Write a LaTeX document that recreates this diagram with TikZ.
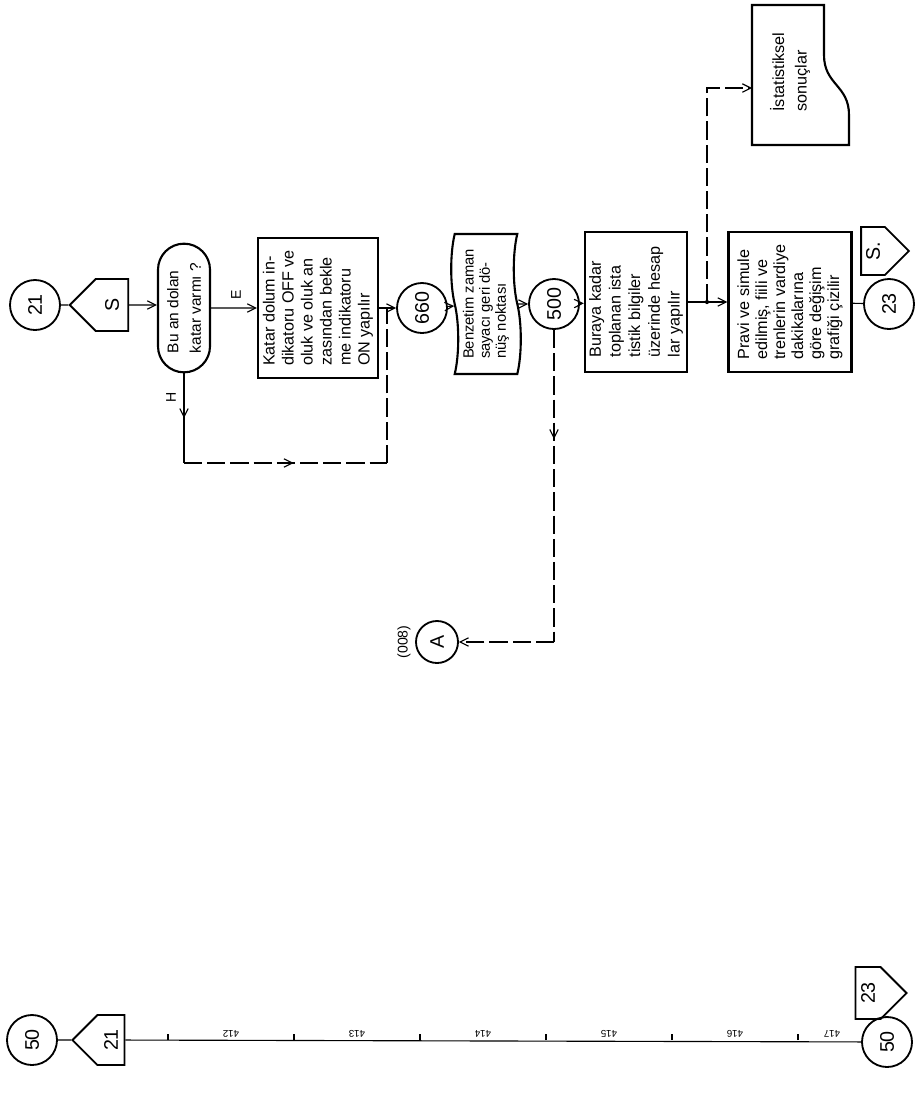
\documentclass[tikz,border=0pt]{standalone}
\usepackage{fontspec}
\setmainfont{Liberation Sans}
\usetikzlibrary{positioning,arrows.meta,shapes.misc,shapes.symbols,decorations.markings}

\begin{document}
\begin{tikzpicture}[x=0.025cm, y=-0.025cm,
        >={Straight Barb[length=6pt,width=6pt]},
        proc/.style={draw, line width=1.5pt, rotate=90, align=left,
                     minimum width=3.5cm, inner sep=3pt},
        dec/.style={draw, rounded rectangle, line width=1.5pt, rotate=90,
                    align=left, minimum width=3.45cm, minimum height=1.3cm,
                    font=\fontsize{11}{16}\selectfont},
        conn/.style={draw, circle, line width=1.3pt, rotate=90, inner sep=0pt,
                     minimum size=1.25cm, font=\fontsize{14}{16}\selectfont},
        offp/.style={draw, signal, signal pointer angle=90, line width=1.3pt,
                     rotate=90, inner sep=0pt, font=\fontsize{14}{16}\selectfont},
        lbl/.style={rotate=90, inner sep=1pt, font=\fontsize{10}{11}\selectfont},
        tick/.style={rotate=180, inner sep=1pt, font=\fontsize{7}{8}\selectfont},
        flow/.style={line width=0.8pt},
        dsh/.style={flow, dash pattern=on 13pt off 3.5pt},
        midarr/.style={postaction={decorate}, decoration={markings,
                       mark=at position #1 with {\arrow{>}}}},
      ]
        \useasboundingbox (0,0) rectangle (915,1099);

        % upper row
        \node[conn] (c21) at (35,305) {21};
        \node[offp, signal to=north, minimum width=1.3cm, minimum height=0.975cm] (pS) at (112,305) {S};
        \node[dec] (dec) at (184,308) {Bu an dolan\\katar varmı ?};
        \node[proc, minimum height=3.0cm, font=\fontsize{11.5}{13.5}\selectfont] (box1) at (318,308)
          {Katar dolum in-\\dikatoru OFF ve\\oluk ve oluk an\\zasından bekle\\me indikatoru\\ON yapılır};
        \node[conn] (c660) at (422,308) {660};
        \node[draw, tape, line width=1.5pt, rotate=90, align=left, minimum width=3.5cm,
              minimum height=1.65cm, font=\fontsize{10.5}{11.5}\selectfont] (tp) at (486,304)
          {Benzetim zaman\\sayacı geri dö-\\nüş noktası};
        \node[conn] (c500) at (554,304) {500};
        \node[proc, minimum height=2.45cm, font=\fontsize{11.5}{14}\selectfont] (box2) at (636,302)
          {Buraya kadar\\toplanan ista\\tistik bilgiler\\üzerinde hesap\\lar yapılır};
        \node[proc, minimum height=3.075cm, font=\fontsize{11.5}{12.8}\selectfont] (box3) at (790,302)
          {Pravi ve simule\\edilmiş, fiili ve\\trenlerin vardiye\\dakikalarına\\göre değişim\\grafiği çizilir};
        \node[offp, signal to=south, minimum width=1.2cm, minimum height=0.825cm] (pS2) at (873,251) {S.};
        \node[conn] (c23) at (889,304) {23};

        % statistics output
        \draw[line width=1.5pt] (752,5) -- (824,5) -- (824,55)
          .. controls (824,85) and (849,85) .. (849,115) -- (849,145) -- (752,145) -- cycle;
        \node[lbl, align=left, font=\fontsize{11.5}{16}\selectfont] (stat) at (790,72)
          {İstatistiksel\\sonuçlar};
        \coordinate (statin) at (752,88);

        % return point
        \node[conn, minimum size=1.05cm] (cA) at (437,642) {A};
        \node[lbl] (ref) at (404,642) {(008)};

        \node[lbl] (lE) at (236,295) {E};
        \node[lbl] (lH) at (171,397) {H};

        \coordinate (j1) at (387,308);
        \coordinate (jn) at (707,302);
        \coordinate (hb) at (184,463);
        \coordinate (hc) at (387,463);
        \coordinate (ac) at (554,642);

        \draw[flow] (c21) -- (pS);
        \draw[flow,->] (pS) -- (pS -| dec.north);
        \draw[flow,->] (dec) -- (box1);
        \draw[flow] (box1) -- (j1);
        \draw[flow,->] (j1) -- (c660);
        \draw[flow,->] (c660) -- (tp);
        \draw[flow,->] (tp) -- (c500);
        \draw[flow,->] (c500) -- (box2);
        \draw[flow] (box2) -- (jn);
        \draw[flow,->] (jn) -- (box3);
        \fill (jn) circle (1.5pt);
        \draw[dsh,->] (jn) |- (statin);
        \draw[flow] (box3) -- (c23);

        % no branch
        \draw[flow, midarr=0.5] (dec) -- (hb);
        \draw[dsh, midarr=0.54] (hb) -- (hc);
        \draw[dsh] (hc) -- (j1);

        % back to A
        \draw[dsh, midarr=0.35] (c500) -- (ac);
        \draw[dsh,->] (ac) -- (cA);

        % lower row
        \node[conn] (c50a) at (32,1040) {50};
        \node[offp, signal to=north, minimum width=1.25cm, minimum height=0.95cm] (p21) at (111,1040) {21};
        \node[conn] (c50b) at (887,1042) {50};
        \node[offp, signal to=south, minimum width=1.3cm, minimum height=0.9cm] (p23) at (868,993) {23};
        \draw[flow] (c50a) -- (p21);
        \draw[flow] (p21) -- (c50b);
        \draw[flow] (p23) -- (c50b);

        \draw[flow] (168,1040) -- (168,1034);
        \draw[flow] (294,1040) -- (294,1034);
        \draw[flow] (420,1040) -- (420,1034);
        \draw[flow] (546,1040) -- (546,1034);
        \draw[flow] (672,1040) -- (672,1034);
        \draw[flow] (798,1040) -- (798,1034);
        \node[tick, anchor=north] (t412) at (231,1039) {412};
        \node[tick, anchor=north] (t413) at (357,1039) {413};
        \node[tick, anchor=north] (t414) at (483,1039) {414};
        \node[tick, anchor=north] (t415) at (609,1039) {415};
        \node[tick, anchor=north] (t416) at (735,1039) {416};
        \node[tick, anchor=north] (t417) at (832,1039) {417};
      \end{tikzpicture}
\end{document}
